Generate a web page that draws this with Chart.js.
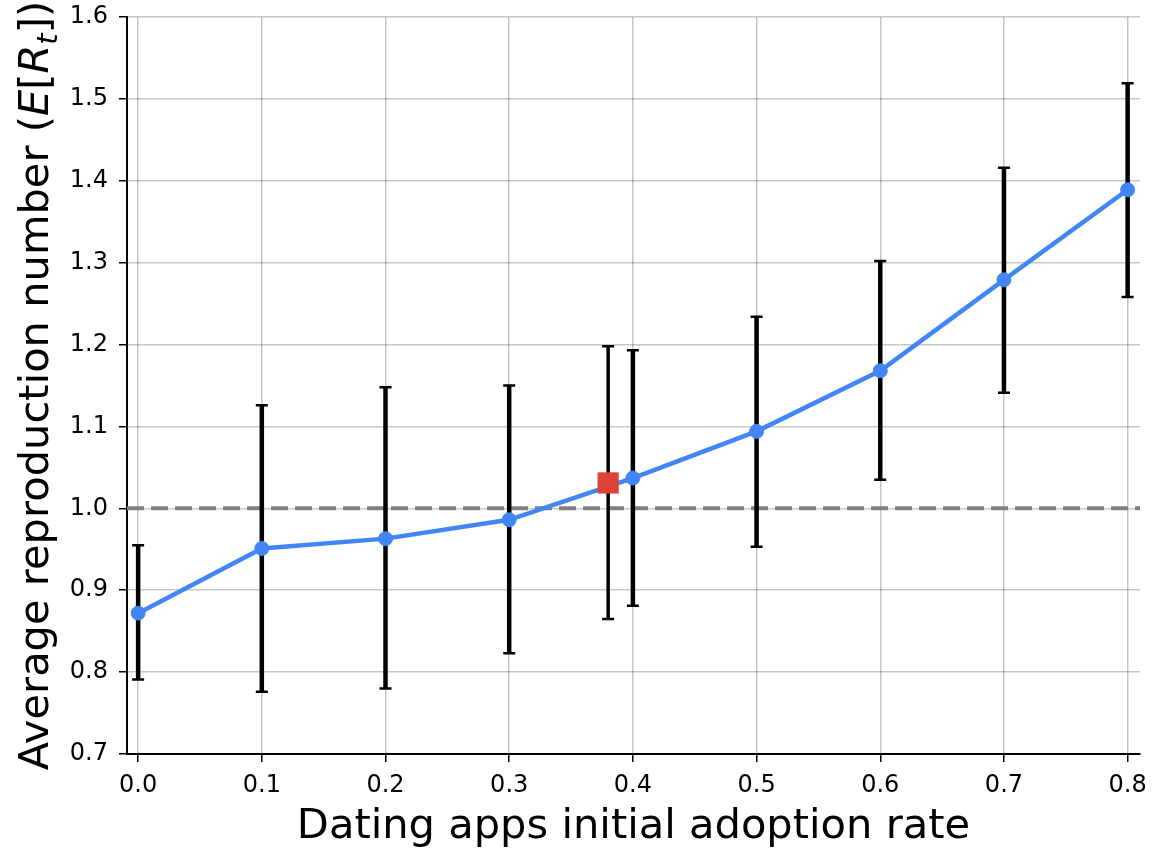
<!DOCTYPE html>
<html>
<head>
<meta charset="utf-8">
<script src="https://cdn.jsdelivr.net/npm/chart.js@4.4.1/dist/chart.umd.min.js"></script>
<style>
  html, body { margin: 0; padding: 0; background: #fff; }
</style>
</head>
<body>
<canvas id="rtChart" width="1156" height="853"></canvas>
<script>
// values
const adoptionRates = [0.0, 0.1, 0.2, 0.3, 0.4, 0.5, 0.6, 0.7, 0.8];
const meanRt = [0.872, 0.951, 0.963, 0.986, 1.037, 1.094, 1.168, 1.279, 1.389];
const rtLower = [0.791, 0.776, 0.780, 0.823, 0.881, 0.953, 1.035, 1.141, 1.258];
const rtUpper = [0.955, 1.126, 1.148, 1.150, 1.193, 1.234, 1.302, 1.416, 1.519];

// current adoption (red square)
const currentRate = [0.38];
const currentRt = [1.031];
const currentLower = [0.865];
const currentUpper = [1.198];

const thresholdRt = 1.0;
const xMin = -0.009, xMax = 0.81;
const yMin = 0.7, yMax = 1.6;

const FONT = 'DejaVu Sans';

const toPoints = (xs, ys) => xs.map((x, i) => ({ x: x, y: ys[i] }));

// error bars drawn under the blue line, above the dashed threshold
const errorBarPlugin = {
  id: 'errorBars',
  beforeDatasetDraw(chart, args) {
    if (args.index !== 1) return;
    const { ctx, scales: { x, y } } = chart;
    const drawBars = (xs, lo, hi, width) => {
      xs.forEach((v, i) => {
        const px = x.getPixelForValue(v);
        const top = y.getPixelForValue(hi[i]);
        const bot = y.getPixelForValue(lo[i]);
        ctx.lineWidth = width;
        ctx.beginPath();
        ctx.moveTo(px, top);
        ctx.lineTo(px, bot);
        ctx.stroke();
        ctx.lineWidth = 2.5;
        ctx.beginPath();
        ctx.moveTo(px - 6, top);
        ctx.lineTo(px + 6, top);
        ctx.moveTo(px - 6, bot);
        ctx.lineTo(px + 6, bot);
        ctx.stroke();
      });
    };
    ctx.save();
    ctx.strokeStyle = '#000';
    ctx.lineCap = 'butt';
    drawBars(adoptionRates, rtLower, rtUpper, 4.5);
    drawBars(currentRate, currentLower, currentUpper, 3.5);
    ctx.restore();
  }
};

// y axis title with italic E[R_t]
const yTitlePlugin = {
  id: 'yTitle',
  afterDraw(chart) {
    const { ctx, chartArea } = chart;
    const size = 41.6;
    const parts = [
      { t: 'Average reproduction number (', f: `${size}px "${FONT}"`, dy: 0 },
      { t: 'E', f: `italic ${size}px "${FONT}"`, dy: 0 },
      { t: '[', f: `${size}px "${FONT}"`, dy: 0 },
      { t: 'R', f: `italic ${size}px "${FONT}"`, dy: 0 },
      { t: 't', f: `italic ${Math.round(size * 0.7)}px "${FONT}"`, dy: 9 },
      { t: '])', f: `${size}px "${FONT}"`, dy: 0 }
    ];
    ctx.save();
    let total = 0;
    parts.forEach(p => { ctx.font = p.f; p.w = ctx.measureText(p.t).width; total += p.w; });
    ctx.translate(33, (chartArea.top + chartArea.bottom) / 2);
    ctx.rotate(-Math.PI / 2);
    ctx.fillStyle = '#000';
    ctx.textBaseline = 'alphabetic';
    let cx = -total / 2;
    parts.forEach(p => {
      ctx.font = p.f;
      ctx.fillText(p.t, cx, 15 + p.dy);
      cx += p.w;
    });
    ctx.restore();
  }
};

new Chart(document.getElementById('rtChart').getContext('2d'), {
  type: 'line',
  data: {
    datasets: [
      {
        label: 'Current adoption',
        data: toPoints(currentRate, currentRt),
        showLine: false,
        pointStyle: 'rect',
        pointRadius: 15,
        pointBorderWidth: 0,
        pointBackgroundColor: '#DB4437',
        pointBorderColor: '#DB4437',
        order: 0
      },
      {
        label: 'Average reproduction number',
        data: toPoints(adoptionRates, meanRt),
        borderColor: '#4285F4',
        backgroundColor: '#4285F4',
        borderWidth: 4.5,
        pointRadius: 7,
        pointBorderWidth: 1,
        tension: 0,
        order: 1
      },
      {
        label: 'Threshold',
        data: toPoints([xMin, xMax], [thresholdRt, thresholdRt]),
        borderColor: '#808080',
        borderWidth: 4,
        borderDash: [17, 7],
        pointRadius: 0,
        order: 2
      }
    ]
  },
  options: {
    responsive: false,
    animation: false,
    devicePixelRatio: 1,
    layout: { padding: { top: 17, right: 16, left: 0, bottom: 0 } },
    plugins: {
      legend: { display: false },
      tooltip: { enabled: false }
    },
    scales: {
      x: {
        type: 'linear',
        min: xMin,
        max: xMax,
        afterFit: s => { s.height = 99; },
        ticks: {
          stepSize: 0.1,
          includeBounds: false,
          autoSkip: false,
          maxRotation: 0,
          color: '#000',
          padding: 9,
          font: { family: FONT, size: 24 },
          callback: v => v.toFixed(1)
        },
        grid: {
          color: 'rgba(0,0,0,0.22)',
          lineWidth: 1.5,
          tickColor: '#000',
          tickLength: 8,
          tickWidth: 1.5
        },
        border: { color: '#000', width: 2 },
        title: {
          display: true,
          text: 'Dating apps initial adoption rate',
          color: '#000',
          font: { family: FONT, size: 41.6 },
          padding: { top: 0, bottom: 1 }
        }
      },
      y: {
        type: 'linear',
        min: yMin,
        max: yMax,
        afterFit: s => { s.width = 127; },
        ticks: {
          stepSize: 0.1,
          color: '#000',
          padding: 11,
          font: { family: FONT, size: 24, lineHeight: 0.5 },
          callback: v => v.toFixed(1)
        },
        grid: {
          color: 'rgba(0,0,0,0.22)',
          lineWidth: 1.5,
          tickColor: '#000',
          tickLength: 8,
          tickWidth: 1.5
        },
        border: { color: '#000', width: 2 }
      }
    }
  },
  plugins: [errorBarPlugin, yTitlePlugin]
});
</script>
</body>
</html>
